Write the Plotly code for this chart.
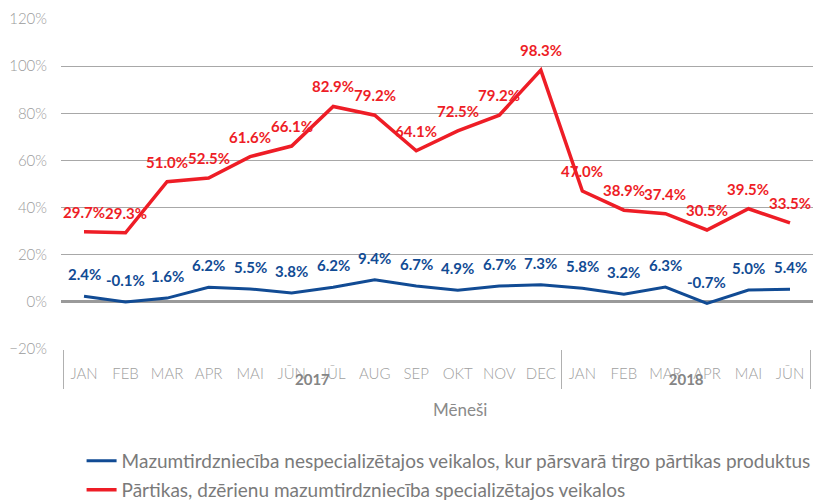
import plotly.graph_objects as go

months = ["JAN", "FEB", "MAR", "APR", "MAI", "JŪN", "JŪL", "AUG", "SEP", "OKT", "NOV", "DEC",
          "JAN", "FEB", "MAR", "APR", "MAI", "JŪN"]
years = ["2017"] * 12 + ["2018"] * 6

blue_name = "Mazumtirdzniecība nespecializētajos veikalos, kur pārsvarā tirgo pārtikas produktus"
red_name = "Pārtikas, dzērienu mazumtirdzniecība specializētajos veikalos"

blue_vals = [2.4, -0.1, 1.6, 6.2, 5.5, 3.8, 6.2, 9.4, 6.7, 4.9, 6.7, 7.3, 5.8, 3.2, 6.3, -0.7, 5.0, 5.4]
red_vals = [29.7, 29.3, 51.0, 52.5, 61.6, 66.1, 82.9, 79.2, 64.1, 72.5, 79.2, 98.3, 47.0, 38.9, 37.4, 30.5, 39.5, 33.5]

BLUE = "#114b94"
RED = "#ee1d26"
GRAY = "#9b9b9b"

year_lbls = [f"<span style='color:#858585'><b>{y}</b></span>" for y in years]
x = [year_lbls, months]

fig = go.Figure()
fig.add_trace(go.Scatter(x=x, y=blue_vals, mode="lines", name=blue_name,
                         line=dict(color=BLUE, width=3), legend="legend"))
fig.add_trace(go.Scatter(x=x, y=red_vals, mode="lines", name=red_name,
                         line=dict(color=RED, width=3.5), legend="legend2"))

annotations = []
for i, v in enumerate(blue_vals):
    annotations.append(dict(x=i, y=v, xref="x", yref="y", text=f"{v:.1f}%", showarrow=False,
                            yshift=22, font=dict(family="Lato", size=15, color=BLUE, weight="bold")))
for i, v in enumerate(red_vals):
    annotations.append(dict(x=i, y=v, xref="x", yref="y", text=f"{v:.1f}%", showarrow=False,
                            yshift=20, font=dict(family="Lato", size=15, color=RED, weight="bold")))
annotations.append(dict(x=(460 - 61) / 752, y=(349 - 409) / 330, xref="paper", yref="paper",
                        text="Mēneši", showarrow=False, xanchor="center", yanchor="middle",
                        font=dict(family="Lato", size=17, color="#8a8a8a")))

fig.update_layout(
    width=824, height=502,
    margin=dict(l=61, r=11, t=19, b=153, autoexpand=False),
    plot_bgcolor="white", paper_bgcolor="white",
    annotations=annotations,
    showlegend=True,
    legend=dict(x=0.099, y=1 - 461 / 502, xref="container", yref="container",
                xanchor="left", yanchor="middle", orientation="h",
                font=dict(family="Lato", size=19, color="#7a7a7a"), itemwidth=30,
                bgcolor="rgba(0,0,0,0)"),
    legend2=dict(x=0.099, y=1 - 490 / 502, xref="container", yref="container",
                 xanchor="left", yanchor="middle", orientation="h",
                 font=dict(family="Lato", size=19, color="#7a7a7a"), itemwidth=30,
                 bgcolor="rgba(0,0,0,0)"),
)
fig.update_yaxes(range=[-20, 120], dtick=20, ticksuffix="%", showgrid=True, gridcolor="#a8a8a8",
                 gridwidth=1, zeroline=True, zerolinecolor="#9a9a9a", zerolinewidth=3,
                 tickfont=dict(family="Lato", size=15, color=GRAY, weight=300), showline=False,
                 ticks="", ticklabelstandoff=13, automargin=False)
fig.update_xaxes(type="multicategory", showgrid=False, showline=False, ticks="", tickangle=0,
                 tickfont=dict(family="Lato", size=15, color="#a0a0a0", weight=300),
                 ticklabelstandoff=14,
                 showdividers=True, dividercolor="#b0b0b0", dividerwidth=1, automargin=False)

fig.write_html("out.html", config={"displayModeBar": False},
               post_script="document.body.style.margin='0';")
